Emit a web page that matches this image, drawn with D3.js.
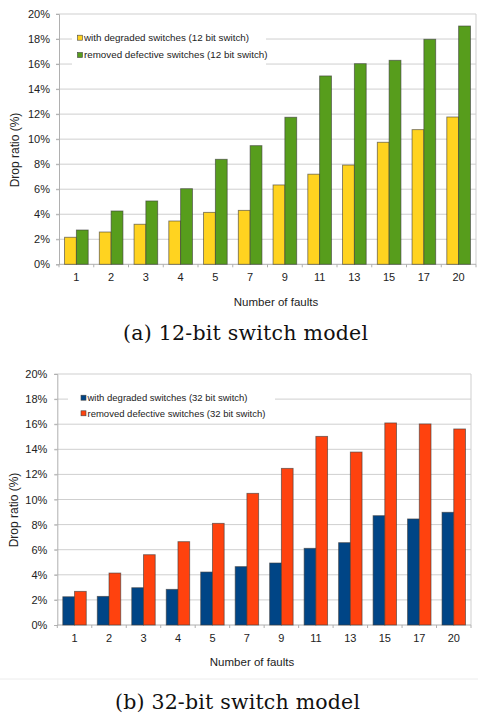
<!DOCTYPE html>
<html>
<head>
<meta charset="utf-8">
<script src="https://cdn.jsdelivr.net/npm/d3@7"></script>
<style>
  html, body { margin: 0; padding: 0; background: #fff; }
  svg { display: block; }
</style>
</head>
<body>
<svg id="chart" width="478" height="715"></svg>
<script>
// ---- data ----
const categories = ["1", "2", "3", "4", "5", "7", "9", "11", "13", "15", "17", "20"];
const yTicks = [0, 2, 4, 6, 8, 10, 12, 14, 16, 18, 20];

const seriesNames12 = ["with degraded switches (12 bit switch)", "removed defective switches (12 bit switch)"];
const degraded12 = [2.16, 2.58, 3.2, 3.46, 4.15, 4.31, 6.34, 7.2, 7.93, 9.75, 10.76, 11.77];
const removed12  = [2.74, 4.26, 5.06, 6.04, 8.39, 9.48, 11.75, 15.05, 16.03, 16.3, 17.98, 19.04];

const seriesNames32 = ["with degraded switches (32 bit switch)", "removed defective switches (32 bit switch)"];
const degraded32 = [2.25, 2.28, 2.97, 2.84, 4.22, 4.65, 4.94, 6.11, 6.56, 8.71, 8.45, 8.98];
const removed32  = [2.68, 4.14, 5.6, 6.64, 8.1, 10.49, 12.48, 15.03, 13.78, 16.1, 16.02, 15.62];

const xTitle = "Number of faults";
const yTitle = "Drop ratio (%)";
const caption12 = "(a) 12-bit switch model";
const caption32 = "(b) 32-bit switch model";

// ---- drawing ----
const svg = d3.select("#chart");
const sans = "'Liberation Sans', Arial, sans-serif";

function drawChart(cfg) {
  const g = svg.append("g");
  const x = d3.scaleBand().domain(categories).range([cfg.left, cfg.right])
    .paddingInner(0.32).paddingOuter(0.16);
  const x1 = d3.scaleBand().domain([0, 1]).range([0, x.bandwidth()]);
  const y = d3.scaleLinear().domain([0, 20]).range([cfg.bottom, cfg.top]);

  // gridlines
  g.append("g").selectAll("line").data(yTicks.filter(t => t > 0)).join("line")
    .attr("x1", cfg.left - 3).attr("x2", cfg.right)
    .attr("y1", d => y(d)).attr("y2", d => y(d))
    .attr("stroke", "#cfcfcf").attr("stroke-width", 1);

  // right border
  g.append("line").attr("x1", cfg.right).attr("x2", cfg.right)
    .attr("y1", y(20)).attr("y2", y(0)).attr("stroke", "#cfcfcf");

  // legend background (covers gridlines)
  g.append("rect").attr("x", cfg.legBox[0]).attr("y", cfg.legBox[1])
    .attr("width", cfg.legBox[2]).attr("height", cfg.legBox[3]).attr("fill", "#fff");

  // y axis
  const yAxis = d3.axisLeft(y).tickValues(yTicks).tickSize(3).tickPadding(cfg.yPad)
    .tickFormat(d => d + "%");
  const ya = g.append("g").attr("transform", `translate(${cfg.left},0)`).call(yAxis);
  ya.select(".domain").attr("stroke", "#b0b0b0");
  ya.selectAll(".tick line").attr("stroke", "#b0b0b0");
  ya.selectAll(".tick text").attr("font-family", sans).attr("font-size", 11).attr("fill", "#222");

  // x axis
  const xa = g.append("g").attr("transform", `translate(0,${cfg.bottom})`)
    .call(d3.axisBottom(x).tickSize(0).tickPadding(9));
  xa.select(".domain").remove();
  xa.selectAll(".tick text").attr("font-family", sans).attr("font-size", 11).attr("fill", "#222");
  g.append("line").attr("x1", cfg.left).attr("x2", cfg.right)
    .attr("y1", cfg.bottom).attr("y2", cfg.bottom).attr("stroke", "#b0b0b0");
  const step = x.step();
  g.append("g").selectAll("line").data(d3.range(categories.length + 1)).join("line")
    .attr("x1", i => cfg.left + i * step).attr("x2", i => cfg.left + i * step)
    .attr("y1", cfg.bottom).attr("y2", cfg.bottom + 3).attr("stroke", "#b0b0b0");

  // bars
  cfg.series.forEach((vals, si) => {
    g.append("g").selectAll("rect").data(vals).join("rect")
      .attr("x", (d, i) => x(categories[i]) + x1(si))
      .attr("width", x1.bandwidth())
      .attr("y", d => y(d))
      .attr("height", d => y(0) - y(d))
      .attr("fill", cfg.colors[si])
      .attr("stroke", "#3a3a3a").attr("stroke-opacity", 0.65).attr("stroke-width", 0.9);
  });

  // legend
  cfg.names.forEach((name, i) => {
    const ly = cfg.legY[i];
    g.append("rect").attr("x", cfg.legX).attr("y", ly - 2.5).attr("width", 5).attr("height", 5)
      .attr("fill", cfg.colors[i]).attr("stroke", "#444").attr("stroke-width", 0.6);
    g.append("text").attr("x", cfg.legX + 6.5).attr("y", ly).attr("dy", "0.35em")
      .attr("font-family", sans).attr("font-size", cfg.legFont).attr("fill", "#222")
      .text(name);
  });

  // axis titles
  g.append("text").attr("transform", `translate(${cfg.yTitleX},${cfg.yTitleY}) rotate(-90)`)
    .attr("text-anchor", "middle").attr("dy", "0.35em")
    .attr("font-family", sans).attr("font-size", 12).attr("fill", "#222").text(yTitle);
  g.append("text").attr("x", cfg.xTitleX).attr("y", cfg.xTitleY).attr("dy", "0.35em")
    .attr("text-anchor", "middle")
    .attr("font-family", sans).attr("font-size", 11.5).attr("fill", "#222").text(xTitle);

  // caption
  g.append("text").attr("x", cfg.capX).attr("y", cfg.capY).attr("dy", "0.35em")
    .attr("text-anchor", "middle")
    .attr("font-family", "'DejaVu Serif', serif").attr("font-size", 20.5).attr("fill", "#111")
    .attr("textLength", 245).attr("lengthAdjust", "spacing")
    .text(cfg.caption);
}

drawChart({
  left: 59, right: 476, top: 14, bottom: 264.3,
  series: [degraded12, removed12], names: seriesNames12,
  colors: ["#ffd320", "#579d1c"],
  legBox: [72, 27, 194, 39], legX: 77.5, legY: [37.7, 55], legFont: 9.8,
  yPad: 6,
  yTitleX: 15, yTitleY: 150, xTitleX: 276, xTitleY: 302.3,
  caption: caption12, capX: 245.5, capY: 333
});

drawChart({
  left: 57.3, right: 471, top: 374, bottom: 625,
  series: [degraded32, removed32], names: seriesNames32,
  colors: ["#004586", "#ff420e"],
  legBox: [68, 386, 207, 36], legX: 81, legY: [397.7, 413.3], legFont: 9.5,
  yPad: 7,
  yTitleX: 14, yTitleY: 510, xTitleX: 252, xTitleY: 661.7,
  caption: caption32, capX: 237.5, capY: 701.7
});

// separator line near bottom
svg.append("line").attr("x1", 0).attr("x2", 478).attr("y1", 679).attr("y2", 679)
  .attr("stroke", "#ececec").attr("stroke-width", 1);
</script>
</body>
</html>
